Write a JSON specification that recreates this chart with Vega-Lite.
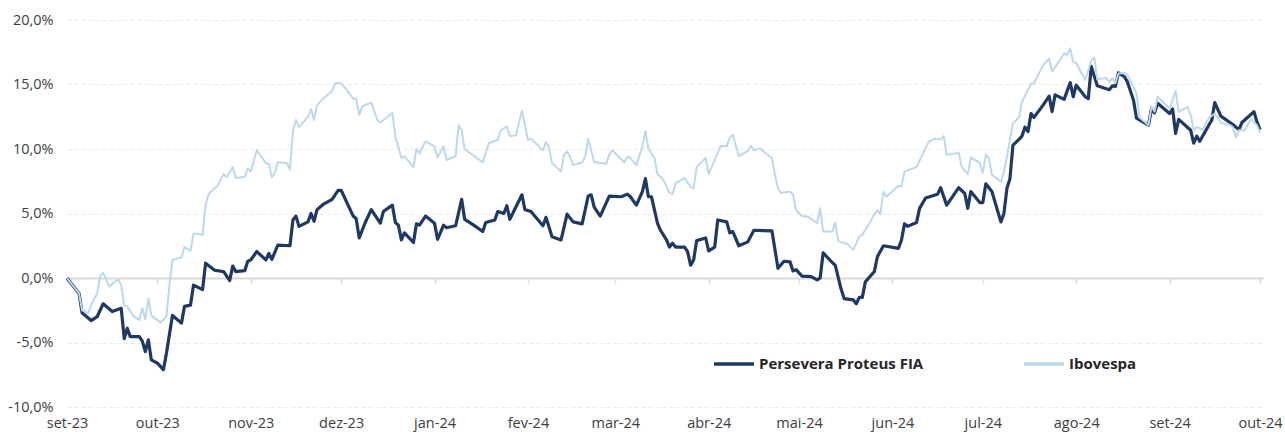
{
"$schema":"https://vega.github.io/schema/vega-lite/v6.json",
"width":1196,"height":387,"autosize":"none",
"padding":{"left":67,"top":20,"right":22,"bottom":25},
"background":"white",
"config":{"view":{"stroke":null},"font":"Open Sans"},
"datasets":{
"proteus":[
{"d":"2023-09-01T00:00","v":0},{"d":"2023-09-05T00:00","v":-1.2},{"d":"2023-09-06T00:00","v":-2.7},{"d":"2023-09-09T00:00","v":-3.3},{"d":"2023-09-11T00:00","v":-3.0},{"d":"2023-09-13T00:00","v":-2.0},{"d":"2023-09-16T00:00","v":-2.6},{"d":"2023-09-19T00:00","v":-2.35},{"d":"2023-09-20T00:00","v":-4.7},{"d":"2023-09-21T00:00","v":-3.9},{"d":"2023-09-22T00:00","v":-4.55},{"d":"2023-09-25T00:00","v":-4.55},{"d":"2023-09-26T00:00","v":-4.9},{"d":"2023-09-27T00:00","v":-5.7},{"d":"2023-09-28T00:00","v":-4.8},{"d":"2023-09-29T00:00","v":-6.35},
{"d":"2023-10-01T00:00","v":-6.6},{"d":"2023-10-03T00:00","v":-7.1},{"d":"2023-10-04T00:00","v":-5.85},{"d":"2023-10-06T00:00","v":-2.9},{"d":"2023-10-09T00:00","v":-3.5},{"d":"2023-10-10T00:00","v":-2.2},{"d":"2023-10-12T00:00","v":-2.1},{"d":"2023-10-13T00:00","v":-0.55},{"d":"2023-10-16T00:00","v":-0.9},{"d":"2023-10-17T00:00","v":1.15},{"d":"2023-10-20T00:00","v":0.6},{"d":"2023-10-23T00:00","v":0.5},{"d":"2023-10-25T00:00","v":-0.2},{"d":"2023-10-26T00:00","v":0.93},{"d":"2023-10-27T00:00","v":0.5},{"d":"2023-10-30T00:00","v":0.57},{"d":"2023-10-31T00:00","v":1.3},
{"d":"2023-11-01T00:00","v":1.4},{"d":"2023-11-03T00:00","v":2.05},{"d":"2023-11-06T00:00","v":1.4},{"d":"2023-11-07T00:00","v":1.9},{"d":"2023-11-08T00:00","v":1.45},{"d":"2023-11-10T00:00","v":2.55},{"d":"2023-11-14T00:00","v":2.5},{"d":"2023-11-15T00:00","v":4.5},{"d":"2023-11-16T00:00","v":4.8},{"d":"2023-11-17T00:00","v":4.0},{"d":"2023-11-20T00:00","v":4.35},{"d":"2023-11-21T00:00","v":5.0},{"d":"2023-11-22T00:00","v":4.4},{"d":"2023-11-23T00:00","v":5.3},{"d":"2023-11-25T00:00","v":5.7},{"d":"2023-11-28T00:00","v":6.1},{"d":"2023-11-30T00:00","v":6.8},
{"d":"2023-12-01T00:00","v":6.8},{"d":"2023-12-05T00:00","v":4.8},{"d":"2023-12-06T00:00","v":4.6},{"d":"2023-12-07T00:00","v":3.1},{"d":"2023-12-09T00:00","v":4.3},{"d":"2023-12-11T00:00","v":5.3},{"d":"2023-12-14T00:00","v":4.25},{"d":"2023-12-15T00:00","v":5.15},{"d":"2023-12-18T00:00","v":5.65},{"d":"2023-12-19T00:00","v":4.3},{"d":"2023-12-20T00:00","v":4.1},{"d":"2023-12-21T00:00","v":2.95},{"d":"2023-12-22T00:00","v":3.5},{"d":"2023-12-25T00:00","v":2.75},{"d":"2023-12-26T00:00","v":4.2},{"d":"2023-12-27T00:00","v":4.1},{"d":"2023-12-29T00:00","v":4.8},
{"d":"2024-01-01T00:00","v":4.25},{"d":"2024-01-02T00:00","v":3.0},{"d":"2024-01-04T00:00","v":4.1},{"d":"2024-01-05T00:00","v":3.9},{"d":"2024-01-08T00:00","v":4.05},{"d":"2024-01-10T00:00","v":6.1},{"d":"2024-01-11T00:00","v":4.55},{"d":"2024-01-14T00:00","v":4.1},{"d":"2024-01-17T00:00","v":3.6},{"d":"2024-01-18T00:00","v":4.3},{"d":"2024-01-21T00:00","v":4.5},{"d":"2024-01-22T00:00","v":5.15},{"d":"2024-01-24T00:00","v":5.0},{"d":"2024-01-25T00:00","v":5.6},{"d":"2024-01-26T00:00","v":4.55},{"d":"2024-01-28T00:00","v":5.5},{"d":"2024-01-30T00:00","v":6.45},{"d":"2024-01-31T00:00","v":5.3},
{"d":"2024-02-02T00:00","v":5.15},{"d":"2024-02-06T00:00","v":4.05},{"d":"2024-02-07T00:00","v":4.7},{"d":"2024-02-09T00:00","v":3.2},{"d":"2024-02-12T00:00","v":2.95},{"d":"2024-02-14T00:00","v":4.95},{"d":"2024-02-16T00:00","v":4.35},{"d":"2024-02-19T00:00","v":4.2},{"d":"2024-02-21T00:00","v":6.35},{"d":"2024-02-22T00:00","v":6.45},{"d":"2024-02-23T00:00","v":5.5},{"d":"2024-02-25T00:00","v":4.8},{"d":"2024-02-28T00:00","v":6.35},
{"d":"2024-03-03T00:00","v":6.3},{"d":"2024-03-05T00:00","v":6.5},{"d":"2024-03-06T00:00","v":6.3},{"d":"2024-03-08T00:00","v":5.65},{"d":"2024-03-10T00:00","v":6.7},{"d":"2024-03-11T00:00","v":7.7},{"d":"2024-03-12T00:00","v":6.3},{"d":"2024-03-13T00:00","v":6.3},{"d":"2024-03-15T00:00","v":4.25},{"d":"2024-03-16T00:00","v":3.7},{"d":"2024-03-18T00:00","v":2.95},{"d":"2024-03-19T00:00","v":2.4},{"d":"2024-03-20T00:00","v":2.7},{"d":"2024-03-21T00:00","v":2.4},{"d":"2024-03-24T00:00","v":2.4},{"d":"2024-03-25T00:00","v":2.05},{"d":"2024-03-26T00:00","v":1.0},{"d":"2024-03-27T00:00","v":1.4},{"d":"2024-03-28T00:00","v":2.9},{"d":"2024-03-31T00:00","v":3.1},
{"d":"2024-04-01T00:00","v":2.1},{"d":"2024-04-03T00:00","v":2.4},{"d":"2024-04-04T00:00","v":4.5},{"d":"2024-04-07T00:00","v":4.35},{"d":"2024-04-08T00:00","v":3.5},{"d":"2024-04-09T00:00","v":3.6},{"d":"2024-04-11T00:00","v":2.5},{"d":"2024-04-14T00:00","v":2.8},{"d":"2024-04-16T00:00","v":3.7},{"d":"2024-04-22T00:00","v":3.65},{"d":"2024-04-24T00:00","v":0.75},{"d":"2024-04-26T00:00","v":1.3},{"d":"2024-04-28T00:00","v":1.25},{"d":"2024-04-29T00:00","v":0.55},{"d":"2024-04-30T00:00","v":0.65},
{"d":"2024-05-02T00:00","v":0.15},{"d":"2024-05-05T00:00","v":0.1},{"d":"2024-05-07T00:00","v":-0.15},{"d":"2024-05-08T00:00","v":0.0},{"d":"2024-05-09T00:00","v":1.95},{"d":"2024-05-12T00:00","v":1.2},{"d":"2024-05-13T00:00","v":1.0},{"d":"2024-05-15T00:00","v":-0.9},{"d":"2024-05-16T00:00","v":-1.6},{"d":"2024-05-19T00:00","v":-1.7},{"d":"2024-05-20T00:00","v":-2.0},{"d":"2024-05-21T00:00","v":-1.5},{"d":"2024-05-22T00:00","v":-1.5},{"d":"2024-05-23T00:00","v":-0.3},{"d":"2024-05-26T00:00","v":0.5},{"d":"2024-05-27T00:00","v":1.65},{"d":"2024-05-29T00:00","v":2.5},
{"d":"2024-06-03T00:00","v":2.3},{"d":"2024-06-04T00:00","v":2.95},{"d":"2024-06-05T00:00","v":4.2},{"d":"2024-06-06T00:00","v":4.0},{"d":"2024-06-09T00:00","v":4.3},{"d":"2024-06-10T00:00","v":5.4},{"d":"2024-06-12T00:00","v":6.2},{"d":"2024-06-16T00:00","v":6.5},{"d":"2024-06-17T00:00","v":7.0},{"d":"2024-06-19T00:00","v":5.65},{"d":"2024-06-23T00:00","v":7.0},{"d":"2024-06-25T00:00","v":6.55},{"d":"2024-06-26T00:00","v":5.4},{"d":"2024-06-27T00:00","v":6.7},{"d":"2024-06-30T00:00","v":5.85},
{"d":"2024-07-01T00:00","v":5.85},{"d":"2024-07-02T00:00","v":7.3},{"d":"2024-07-04T00:00","v":6.7},{"d":"2024-07-07T00:00","v":4.35},{"d":"2024-07-08T00:00","v":5.0},{"d":"2024-07-09T00:00","v":6.95},{"d":"2024-07-10T00:00","v":7.7},{"d":"2024-07-11T00:00","v":10.3},{"d":"2024-07-13T00:00","v":10.75},{"d":"2024-07-14T00:00","v":11.0},{"d":"2024-07-15T00:00","v":11.7},{"d":"2024-07-16T00:00","v":11.35},{"d":"2024-07-17T00:00","v":12.75},{"d":"2024-07-18T00:00","v":12.45},{"d":"2024-07-21T00:00","v":13.4},{"d":"2024-07-23T00:00","v":14.1},{"d":"2024-07-24T00:00","v":12.9},{"d":"2024-07-25T00:00","v":14.2},{"d":"2024-07-28T00:00","v":13.85},{"d":"2024-07-30T00:00","v":15.15},{"d":"2024-07-31T00:00","v":14.05},
{"d":"2024-08-01T00:00","v":14.95},{"d":"2024-08-04T00:00","v":14.05},{"d":"2024-08-05T00:00","v":13.9},{"d":"2024-08-06T00:00","v":16.4},{"d":"2024-08-08T00:00","v":14.9},{"d":"2024-08-12T00:00","v":14.6},{"d":"2024-08-13T00:00","v":14.9},{"d":"2024-08-14T00:00","v":14.85},{"d":"2024-08-15T00:00","v":15.9},{"d":"2024-08-17T00:00","v":15.6},{"d":"2024-08-18T00:00","v":15.2},{"d":"2024-08-20T00:00","v":13.8},{"d":"2024-08-21T00:00","v":12.4},{"d":"2024-08-25T00:00","v":11.85},{"d":"2024-08-26T00:00","v":13.15},{"d":"2024-08-27T00:00","v":12.8},{"d":"2024-08-28T00:00","v":13.55},
{"d":"2024-09-01T00:00","v":12.75},{"d":"2024-09-02T00:00","v":13.1},{"d":"2024-09-03T00:00","v":11.2},{"d":"2024-09-04T00:00","v":12.3},{"d":"2024-09-08T00:00","v":11.45},{"d":"2024-09-09T00:00","v":10.45},{"d":"2024-09-10T00:00","v":11.0},{"d":"2024-09-11T00:00","v":10.6},{"d":"2024-09-15T00:00","v":12.25},{"d":"2024-09-16T00:00","v":13.6},{"d":"2024-09-18T00:00","v":12.55},{"d":"2024-09-22T00:00","v":11.9},{"d":"2024-09-24T00:00","v":11.5},{"d":"2024-09-25T00:00","v":12.05},{"d":"2024-09-29T00:00","v":12.9},{"d":"2024-09-30T00:00","v":12.1},{"d":"2024-10-01T00:00","v":11.5}
],
"ibov":[
{"d":"2023-09-01T00:00","v":0},{"d":"2023-09-05T00:00","v":-1.2},{"d":"2023-09-06T00:00","v":-2.5},{"d":"2023-09-07T00:00","v":-2.6},{"d":"2023-09-08T00:00","v":-2.75},{"d":"2023-09-09T00:00","v":-2.1},{"d":"2023-09-11T00:00","v":-1.2},{"d":"2023-09-12T00:00","v":0.15},{"d":"2023-09-13T00:00","v":0.4},{"d":"2023-09-15T00:00","v":-0.65},{"d":"2023-09-18T00:00","v":-0.1},{"d":"2023-09-19T00:00","v":-0.55},{"d":"2023-09-20T00:00","v":-2.15},{"d":"2023-09-21T00:00","v":-2.2},{"d":"2023-09-23T00:00","v":-2.95},{"d":"2023-09-25T00:00","v":-3.25},{"d":"2023-09-26T00:00","v":-2.35},{"d":"2023-09-27T00:00","v":-3.2},{"d":"2023-09-28T00:00","v":-1.6},{"d":"2023-09-29T00:00","v":-2.9},
{"d":"2023-10-02T00:00","v":-3.45},{"d":"2023-10-04T00:00","v":-3.0},{"d":"2023-10-05T00:00","v":-0.55},{"d":"2023-10-06T00:00","v":1.4},{"d":"2023-10-09T00:00","v":1.6},{"d":"2023-10-10T00:00","v":2.4},{"d":"2023-10-12T00:00","v":2.1},{"d":"2023-10-13T00:00","v":3.45},{"d":"2023-10-16T00:00","v":3.35},{"d":"2023-10-17T00:00","v":5.65},{"d":"2023-10-18T00:00","v":6.5},{"d":"2023-10-20T00:00","v":6.95},{"d":"2023-10-21T00:00","v":7.15},{"d":"2023-10-23T00:00","v":8.05},{"d":"2023-10-24T00:00","v":7.8},{"d":"2023-10-26T00:00","v":8.6},{"d":"2023-10-27T00:00","v":7.75},{"d":"2023-10-30T00:00","v":7.85},{"d":"2023-10-31T00:00","v":8.5},
{"d":"2023-11-01T00:00","v":8.25},{"d":"2023-11-03T00:00","v":9.9},{"d":"2023-11-06T00:00","v":8.9},{"d":"2023-11-07T00:00","v":8.85},{"d":"2023-11-08T00:00","v":7.8},{"d":"2023-11-09T00:00","v":8.15},{"d":"2023-11-10T00:00","v":9.0},{"d":"2023-11-13T00:00","v":8.9},{"d":"2023-11-14T00:00","v":8.4},{"d":"2023-11-15T00:00","v":11.35},{"d":"2023-11-16T00:00","v":12.25},{"d":"2023-11-17T00:00","v":11.7},{"d":"2023-11-20T00:00","v":12.5},{"d":"2023-11-21T00:00","v":13.1},{"d":"2023-11-22T00:00","v":12.25},{"d":"2023-11-23T00:00","v":13.4},{"d":"2023-11-25T00:00","v":13.9},{"d":"2023-11-28T00:00","v":14.5},{"d":"2023-11-29T00:00","v":15.1},
{"d":"2023-12-01T00:00","v":15.1},{"d":"2023-12-03T00:00","v":14.55},{"d":"2023-12-05T00:00","v":13.9},{"d":"2023-12-06T00:00","v":13.9},{"d":"2023-12-07T00:00","v":12.65},{"d":"2023-12-08T00:00","v":13.3},{"d":"2023-12-11T00:00","v":13.6},{"d":"2023-12-13T00:00","v":12.25},{"d":"2023-12-14T00:00","v":12.05},{"d":"2023-12-16T00:00","v":12.4},{"d":"2023-12-18T00:00","v":12.8},{"d":"2023-12-19T00:00","v":10.95},{"d":"2023-12-21T00:00","v":9.3},{"d":"2023-12-22T00:00","v":9.45},{"d":"2023-12-25T00:00","v":8.6},{"d":"2023-12-26T00:00","v":10.0},{"d":"2023-12-27T00:00","v":9.65},{"d":"2023-12-29T00:00","v":10.6},
{"d":"2024-01-01T00:00","v":10.2},{"d":"2024-01-02T00:00","v":9.35},{"d":"2024-01-04T00:00","v":10.2},{"d":"2024-01-05T00:00","v":9.15},{"d":"2024-01-08T00:00","v":9.45},{"d":"2024-01-09T00:00","v":11.85},{"d":"2024-01-10T00:00","v":11.45},{"d":"2024-01-11T00:00","v":10.0},{"d":"2024-01-17T00:00","v":8.95},{"d":"2024-01-19T00:00","v":10.45},{"d":"2024-01-22T00:00","v":10.7},{"d":"2024-01-23T00:00","v":11.45},{"d":"2024-01-25T00:00","v":11.75},{"d":"2024-01-26T00:00","v":11.0},{"d":"2024-01-28T00:00","v":11.05},{"d":"2024-01-30T00:00","v":12.95},
{"d":"2024-02-01T00:00","v":10.7},{"d":"2024-02-02T00:00","v":10.8},{"d":"2024-02-06T00:00","v":9.9},{"d":"2024-02-07T00:00","v":10.55},{"d":"2024-02-08T00:00","v":10.1},{"d":"2024-02-09T00:00","v":8.9},{"d":"2024-02-12T00:00","v":8.25},{"d":"2024-02-13T00:00","v":9.55},{"d":"2024-02-14T00:00","v":9.8},{"d":"2024-02-15T00:00","v":9.4},{"d":"2024-02-16T00:00","v":8.75},{"d":"2024-02-19T00:00","v":8.95},{"d":"2024-02-20T00:00","v":9.4},{"d":"2024-02-21T00:00","v":10.8},{"d":"2024-02-23T00:00","v":9.0},{"d":"2024-02-27T00:00","v":8.85},{"d":"2024-02-28T00:00","v":9.55},{"d":"2024-02-29T00:00","v":9.9},
{"d":"2024-03-04T00:00","v":8.95},{"d":"2024-03-05T00:00","v":9.4},{"d":"2024-03-06T00:00","v":9.3},{"d":"2024-03-08T00:00","v":8.75},{"d":"2024-03-10T00:00","v":10.2},{"d":"2024-03-11T00:00","v":11.4},{"d":"2024-03-12T00:00","v":10.0},{"d":"2024-03-14T00:00","v":9.3},{"d":"2024-03-15T00:00","v":8.05},{"d":"2024-03-16T00:00","v":7.85},{"d":"2024-03-17T00:00","v":7.6},{"d":"2024-03-19T00:00","v":6.6},{"d":"2024-03-20T00:00","v":6.5},{"d":"2024-03-21T00:00","v":7.35},{"d":"2024-03-24T00:00","v":7.75},{"d":"2024-03-26T00:00","v":7.05},{"d":"2024-03-27T00:00","v":6.95},{"d":"2024-03-28T00:00","v":8.6},{"d":"2024-03-31T00:00","v":9.3},
{"d":"2024-04-01T00:00","v":8.05},{"d":"2024-04-03T00:00","v":9.15},{"d":"2024-04-05T00:00","v":10.25},{"d":"2024-04-07T00:00","v":10.2},{"d":"2024-04-08T00:00","v":10.9},{"d":"2024-04-09T00:00","v":11.1},{"d":"2024-04-11T00:00","v":9.45},{"d":"2024-04-14T00:00","v":9.85},{"d":"2024-04-15T00:00","v":10.25},{"d":"2024-04-16T00:00","v":9.9},{"d":"2024-04-18T00:00","v":10.05},{"d":"2024-04-20T00:00","v":9.65},{"d":"2024-04-22T00:00","v":9.3},{"d":"2024-04-23T00:00","v":8.0},{"d":"2024-04-24T00:00","v":6.95},{"d":"2024-04-25T00:00","v":6.6},{"d":"2024-04-28T00:00","v":6.7},{"d":"2024-04-29T00:00","v":6.45},{"d":"2024-04-30T00:00","v":5.25},
{"d":"2024-05-02T00:00","v":4.8},{"d":"2024-05-04T00:00","v":4.75},{"d":"2024-05-07T00:00","v":4.25},{"d":"2024-05-08T00:00","v":5.4},{"d":"2024-05-09T00:00","v":3.6},{"d":"2024-05-12T00:00","v":3.6},{"d":"2024-05-13T00:00","v":4.3},{"d":"2024-05-14T00:00","v":2.85},{"d":"2024-05-16T00:00","v":2.7},{"d":"2024-05-17T00:00","v":2.65},{"d":"2024-05-19T00:00","v":2.2},{"d":"2024-05-21T00:00","v":3.2},{"d":"2024-05-22T00:00","v":3.35},{"d":"2024-05-24T00:00","v":4.1},{"d":"2024-05-26T00:00","v":4.95},{"d":"2024-05-27T00:00","v":5.25},{"d":"2024-05-28T00:00","v":4.95},{"d":"2024-05-29T00:00","v":6.7},{"d":"2024-05-30T00:00","v":6.3},
{"d":"2024-06-03T00:00","v":7.15},{"d":"2024-06-04T00:00","v":7.1},{"d":"2024-06-05T00:00","v":8.25},{"d":"2024-06-09T00:00","v":8.6},{"d":"2024-06-10T00:00","v":9.1},{"d":"2024-06-13T00:00","v":10.55},{"d":"2024-06-15T00:00","v":10.8},{"d":"2024-06-17T00:00","v":10.75},{"d":"2024-06-18T00:00","v":11.0},{"d":"2024-06-19T00:00","v":9.55},{"d":"2024-06-23T00:00","v":9.7},{"d":"2024-06-24T00:00","v":8.6},{"d":"2024-06-26T00:00","v":8.05},{"d":"2024-06-27T00:00","v":9.35},{"d":"2024-06-30T00:00","v":8.9},
{"d":"2024-07-01T00:00","v":8.15},{"d":"2024-07-02T00:00","v":9.55},{"d":"2024-07-03T00:00","v":9.3},{"d":"2024-07-04T00:00","v":8.0},{"d":"2024-07-07T00:00","v":7.45},{"d":"2024-07-08T00:00","v":8.25},{"d":"2024-07-09T00:00","v":9.4},{"d":"2024-07-11T00:00","v":12.0},{"d":"2024-07-13T00:00","v":12.45},{"d":"2024-07-14T00:00","v":13.65},{"d":"2024-07-17T00:00","v":15.05},{"d":"2024-07-18T00:00","v":15.1},{"d":"2024-07-21T00:00","v":16.5},{"d":"2024-07-23T00:00","v":17.0},{"d":"2024-07-24T00:00","v":16.0},{"d":"2024-07-28T00:00","v":17.4},{"d":"2024-07-29T00:00","v":17.3},{"d":"2024-07-30T00:00","v":17.8},{"d":"2024-07-31T00:00","v":16.75},
{"d":"2024-08-01T00:00","v":16.65},{"d":"2024-08-04T00:00","v":15.35},{"d":"2024-08-06T00:00","v":16.85},{"d":"2024-08-07T00:00","v":17.1},{"d":"2024-08-08T00:00","v":15.4},{"d":"2024-08-11T00:00","v":15.5},{"d":"2024-08-12T00:00","v":15.2},{"d":"2024-08-13T00:00","v":15.5},{"d":"2024-08-14T00:00","v":15.1},{"d":"2024-08-15T00:00","v":15.85},{"d":"2024-08-17T00:00","v":15.9},{"d":"2024-08-18T00:00","v":15.75},{"d":"2024-08-21T00:00","v":14.3},{"d":"2024-08-22T00:00","v":12.45},{"d":"2024-08-25T00:00","v":11.85},{"d":"2024-08-26T00:00","v":13.3},{"d":"2024-08-27T00:00","v":12.9},{"d":"2024-08-28T00:00","v":14.05},
{"d":"2024-09-01T00:00","v":13.15},{"d":"2024-09-03T00:00","v":14.5},{"d":"2024-09-04T00:00","v":12.9},{"d":"2024-09-07T00:00","v":13.25},{"d":"2024-09-08T00:00","v":12.65},{"d":"2024-09-09T00:00","v":11.5},{"d":"2024-09-10T00:00","v":11.7},{"d":"2024-09-12T00:00","v":11.5},{"d":"2024-09-14T00:00","v":12.4},{"d":"2024-09-16T00:00","v":12.75},{"d":"2024-09-18T00:00","v":12.05},{"d":"2024-09-21T00:00","v":11.85},{"d":"2024-09-22T00:00","v":11.7},{"d":"2024-09-23T00:00","v":10.9},{"d":"2024-09-24T00:00","v":11.45},{"d":"2024-09-26T00:00","v":11.45},{"d":"2024-09-28T00:00","v":12.3},{"d":"2024-09-30T00:00","v":11.85},{"d":"2024-10-01T00:00","v":11.25}
]},
"encoding":{
"x":{"field":"d","type":"temporal",
"scale":{"domain":[{"year":2023,"month":9,"date":1},{"year":2024,"month":10,"date":2}]},
"axis":{"title":null,"grid":false,"domain":false,"ticks":true,"tickColor":"#d9d9d9","tickSize":5,"tickWidth":1.5,"offset":-129,"labelPadding":133,"labelFlush":false,"labelOverlap":false,"labelFontSize":14.5,"labelColor":"#404040","tickCount":{"interval":"month","step":1},
"labelExpr":"['jan','fev','mar','abr','mai','jun','jul','ago','set','out','nov','dez'][month(datum.value)] + '-' + timeFormat(datum.value, '%y')"}},
"y":{"field":"v","type":"quantitative","scale":{"domain":[-10,20],"nice":false},
"axis":{"title":null,"domain":false,"ticks":false,"values":[-10,-5,0,5,10,15,20],"labelPadding":14,"labelFontSize":14.5,"labelColor":"#404040",
"gridColor":{"condition":{"test":"datum.value === 0","value":"#d9d9d9"},"value":"#ebebeb"},
"gridDash":{"condition":{"test":"datum.value === 0","value":[]},"value":[4,3]},
"gridWidth":{"condition":{"test":"datum.value === 0","value":2},"value":1},
"labelExpr":"(datum.value < 0 ? '-' : '') + replace(format(abs(datum.value), '.1f'), '.', ',') + '%'"}}
},
"layer":[
{"data":{"name":"proteus"},"mark":{"type":"line","strokeJoin":"round"},
"encoding":{
"color":{"datum":"Persevera Proteus FIA","type":"nominal","scale":{"domain":["Persevera Proteus FIA","Ibovespa"],"range":["#1f3864","#bdd7ee"]},
"legend":{"orient":"none","legendX":645,"legendY":322,"direction":"horizontal","title":null,"symbolType":"stroke","symbolSize":1600,"symbolStrokeWidth":3.5,"labelFontSize":15,"labelFontWeight":"bold","labelColor":"#262626","columnPadding":93,"labelOffset":3,"padding":0,"labelLimit":400}},
"strokeWidth":{"value":3.2}}},
{"data":{"name":"ibov"},"mark":{"type":"line","strokeJoin":"round"},
"encoding":{
"color":{"datum":"Ibovespa","type":"nominal"},
"strokeWidth":{"value":2}}}
]
}
